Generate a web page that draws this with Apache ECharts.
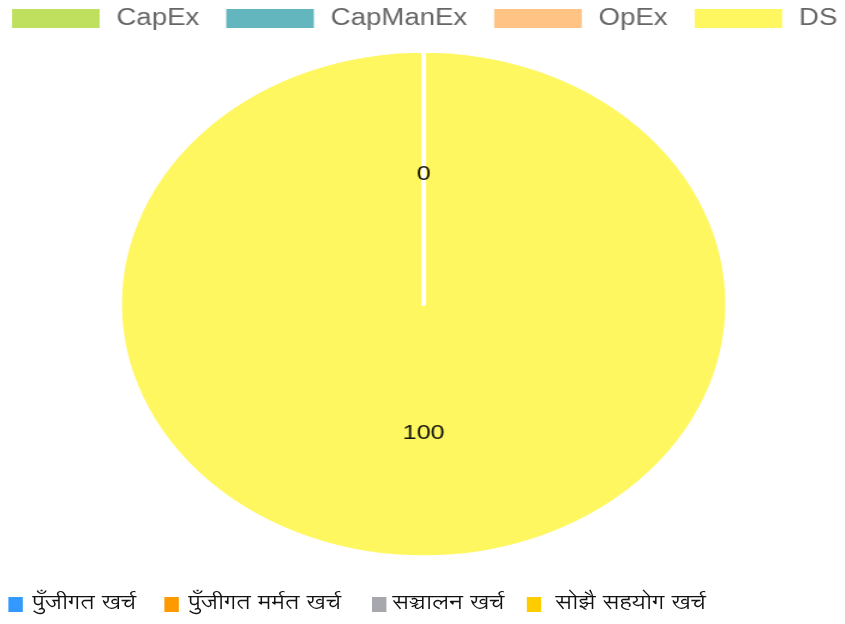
<!DOCTYPE html>
<html>
<head>
<meta charset="utf-8">
<script src="https://cdn.jsdelivr.net/npm/echarts@6/dist/echarts.min.js"></script>
<style>
html,body{margin:0;padding:0;background:#fff;}
#outer{position:relative;width:845px;height:624px;overflow:hidden;}
#inner{position:absolute;left:0;top:0;width:704px;height:624px;transform:scaleX(1.2);transform-origin:0 0;}
#chart{position:absolute;left:0;top:0;width:704px;height:580px;}
#legend2{position:absolute;left:0;top:588px;height:30px;width:704px;font-family:"Lohit Devanagari","Noto Sans Devanagari","FreeSerif","Noto Sans",serif;font-size:20px;color:#111;white-space:nowrap;}
#legend2 span.item{position:absolute;top:0;line-height:30px;}
#legend2 span.sq{position:absolute;top:9px;width:12px;height:15px;}
</style>
</head>
<body>
<div id="outer"><div id="inner"><div id="chart"></div><div id="legend2"></div></div></div>
<script>
const categories = ['CapEx', 'CapManEx', 'OpEx', 'DS'];
const values = [0, 0, 0, 100];
const colors = ['#bfdf5f', '#63b6bd', '#ffc484', '#fff75f'];
const bottomLabels = ['पुँजीगत खर्च', 'पुँजीगत मर्मत खर्च', 'सञ्चालन खर्च', 'सोझै सहयोग खर्च'];
const bottomColors = ['#3399ff', '#ff9900', '#a6a8ad', '#ffcc00'];

const pieData = categories.map((c, i) => ({name: c, value: values[i]}));

const chart = echarts.init(document.getElementById('chart'), null, {renderer: 'canvas'});
chart.setOption({
  animation: false,
  color: colors,
  legend: {
    top: 7,
    left: 10,
    right: 0,
    padding: 0,
    itemWidth: 73,
    itemHeight: 19,
    itemGap: 22.5,
    icon: 'rect',
    textStyle: {color: '#666', fontSize: 23, fontFamily: 'Liberation Sans, Arial, sans-serif', padding: [0, 0, 0, 9]},
    data: categories
  },
  series: [{
    type: 'pie',
    center: [353, 304],
    radius: [0, 253],
    startAngle: 90,
    clockwise: true,
    avoidLabelOverlap: false,
    itemStyle: {borderWidth: 0},
    label: {show: false},
    labelLine: {show: false},
    emphasis: {disabled: true},
    data: pieData
  }, {
    type: 'pie',
    center: [353, 304],
    radius: [0, 253],
    startAngle: 90,
    endAngle: -269.99,
    clockwise: true,
    silent: true,
    avoidLabelOverlap: false,
    z: 3,
    itemStyle: {color: 'rgba(0,0,0,0)', borderColor: '#fff', borderWidth: 3.3},
    label: {
      show: true,
      position: 'inner',
      formatter: '{c}',
      color: '#111',
      fontSize: 21,
      fontFamily: 'Liberation Sans, Arial, sans-serif'
    },
    labelLine: {show: false},
    emphasis: {disabled: true},
    data: pieData
  }]
});

const lg = document.getElementById('legend2');
const sqX = [7, 137, 310, 439];
const txX = [27, 157, 327, 463];
bottomLabels.forEach((t, i) => {
  const s = document.createElement('span');
  s.className = 'sq';
  s.style.left = sqX[i] + 'px';
  s.style.background = bottomColors[i];
  lg.appendChild(s);
  const tx = document.createElement('span');
  tx.className = 'item';
  tx.style.left = txX[i] + 'px';
  tx.textContent = t;
  lg.appendChild(tx);
});
</script>
</body>
</html>
